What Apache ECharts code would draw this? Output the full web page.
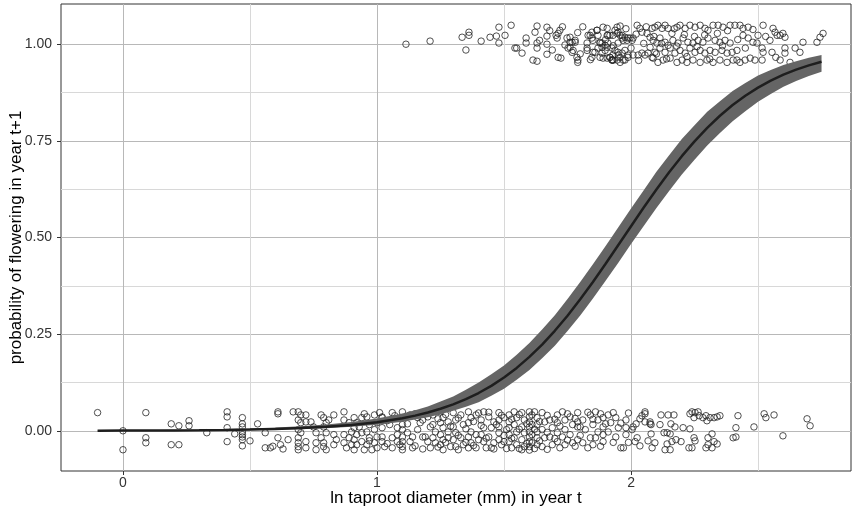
<!DOCTYPE html>
<html>
<head>
<meta charset="utf-8">
<script src="https://cdn.jsdelivr.net/npm/echarts@6/dist/echarts.min.js"></script>
<style>
html, body { margin: 0; padding: 0; background: #fff; }
#chart { width: 856px; height: 511px; }
</style>
</head>
<body>
<div id="chart"></div>
<script>
// fitted curve + confidence band
var curveX = [-0.1, 0.0, 0.1, 0.2, 0.3, 0.4, 0.5, 0.6, 0.7, 0.8, 0.9, 1.0, 1.1, 1.15, 1.2, 1.25, 1.3, 1.35,
  1.4, 1.45, 1.5, 1.55, 1.6, 1.65, 1.7, 1.75, 1.8, 1.85, 1.9, 1.95, 2.0, 2.05, 2.1, 2.15, 2.2, 2.25,
  2.3, 2.35, 2.4, 2.45, 2.5, 2.55, 2.6, 2.65, 2.7, 2.75];
var curveP = [0.0003, 0.0005, 0.0007, 0.0010, 0.0015, 0.0022, 0.0032, 0.0048, 0.0070, 0.0103, 0.0152,
  0.0222, 0.0325, 0.0392, 0.0473, 0.0569, 0.0683, 0.0818, 0.0977, 0.1163, 0.1379, 0.1627, 0.1911,
  0.2230, 0.2587, 0.2977, 0.3401, 0.3851, 0.4322, 0.4805, 0.5292, 0.5774, 0.6241, 0.6686, 0.7104,
  0.7488, 0.7837, 0.8149, 0.8426, 0.8667, 0.8876, 0.9057, 0.9211, 0.9341, 0.9452, 0.9545];
var ciLower = [0.0001, 0.0002, 0.0003, 0.0004, 0.0007, 0.0011, 0.0017, 0.0027, 0.0042, 0.0066, 0.0102,
  0.0155, 0.0235, 0.0290, 0.0350, 0.0430, 0.0520, 0.0625, 0.0740, 0.0905, 0.1090, 0.1320, 0.1570,
  0.1875, 0.2200, 0.2580, 0.2980, 0.3420, 0.3880, 0.4350, 0.4830, 0.5295, 0.5760, 0.6200, 0.6630,
  0.7010, 0.7380, 0.7700, 0.8010, 0.8265, 0.8510, 0.8710, 0.8900, 0.9045, 0.9180, 0.9290];
var ciUpper = [0.0010, 0.0013, 0.0017, 0.0024, 0.0032, 0.0044, 0.0060, 0.0085, 0.0115, 0.0160, 0.0225,
  0.0315, 0.0445, 0.0530, 0.0630, 0.0755, 0.0890, 0.1060, 0.1250, 0.1460, 0.1690, 0.1970, 0.2270,
  0.2620, 0.2990, 0.3410, 0.3850, 0.4310, 0.4780, 0.5265, 0.5750, 0.6225, 0.6700, 0.7130, 0.7550,
  0.7905, 0.8250, 0.8525, 0.8790, 0.8995, 0.9190, 0.9330, 0.9460, 0.9560, 0.9650, 0.9720];

// jittered observations, did not flower (y ~ 0)
var noFlowerA = [[-0.10,0.047],[0.00,0.000],[0.00,-0.049],[0.09,0.047],[0.09,-0.018],[0.09,-0.031],
  [0.19,0.018],[0.19,-0.036],[0.22,0.013],[0.22,-0.036],[0.26,0.026],[0.26,0.013],[0.33,-0.005],
  [0.41,0.049],[0.41,0.036],[0.41,0.008],[0.41,-0.028],[0.44,-0.008],[0.47,0.034],[0.47,0.018],
  [0.47,0.010],[0.47,-0.003],[0.47,-0.010],[0.47,-0.016],[0.47,-0.023],[0.47,-0.039],[0.50,-0.026],
  [0.53,0.018],[0.56,-0.044],[0.56,-0.005]];
var noFlowerB = [[0.58,-0.044],[0.59,-0.040],[0.61,0.049],[0.61,0.044],[0.61,-0.018],[0.62,-0.036],
  [0.63,-0.047],[0.65,-0.023],[0.67,0.049],[0.69,0.049],[0.70,0.041],[0.69,0.028],[0.70,0.021],
  [0.69,0.003],[0.69,-0.018],[0.69,-0.031],[0.69,-0.041],[0.69,-0.049],[0.72,0.023],[0.72,0.041],
  [0.70,-0.005],[0.72,-0.028],[0.72,-0.044],[0.74,0.023],[0.75,0.010],[0.76,-0.005],[0.76,-0.031],
  [0.76,-0.049],[0.78,0.041],[0.79,0.034],[0.80,0.021],[0.79,0.010],[0.80,-0.005],[0.78,-0.018],
  [0.79,-0.031],[0.79,-0.041],[0.80,-0.049],[0.81,0.028],[0.83,0.041],[0.83,-0.010],[0.84,-0.023],
  [0.83,-0.036],[0.87,0.049],[0.87,0.028],[0.87,-0.010],[0.87,-0.031],[0.88,-0.044],[0.89,0.021],
  [0.90,-0.003],[0.89,-0.018],[0.90,-0.036],[0.91,0.034],[0.92,0.021],[0.91,0.008],[0.92,-0.010],
  [0.91,-0.023],[0.92,-0.036],[0.91,-0.049],[0.94,0.034],[0.93,0.010],[0.94,-0.005],[0.94,-0.028],
  [0.95,-0.049],[0.96,0.036],[0.97,0.016],[0.96,-0.003],[0.97,-0.018],[0.96,-0.036],[0.98,-0.049],
  [0.99,0.041],[1.00,0.021],[0.99,0.003],[1.00,-0.016],[0.99,-0.031],[1.00,-0.044],[1.02,0.036],
  [1.02,0.008],[1.02,-0.028]];
var noFlowerC = [[1.02,0.034],[1.02,-0.016],[1.03,-0.041],[1.06,0.047],[1.05,0.016],[1.06,-0.018],
  [1.06,-0.044],[1.08,0.008],[1.08,-0.010],[1.08,-0.028],[1.10,0.049],[1.10,0.034],[1.10,0.016],
  [1.10,0.003],[1.10,-0.016],[1.10,-0.028],[1.10,-0.041],[1.10,-0.049],[1.13,0.041],[1.14,-0.016],
  [1.13,-0.028],[1.14,-0.044],[1.16,0.034],[1.17,0.021],[1.16,0.003],[1.18,-0.016],[1.19,0.049],
  [1.20,0.036],[1.19,-0.016],[1.20,-0.028],[1.21,-0.044],[1.22,0.041],[1.22,0.016],[1.23,-0.003],
  [1.22,-0.018],[1.23,-0.031],[1.25,0.049],[1.26,0.034],[1.25,0.021],[1.26,0.008],[1.25,-0.010],
  [1.26,-0.023],[1.25,-0.036],[1.26,-0.049],[1.28,0.023],[1.28,-0.003],[1.28,-0.018],[1.29,-0.041],
  [1.30,0.047],[1.31,0.028],[1.30,0.010],[1.31,-0.005],[1.30,-0.023],[1.31,-0.041],[1.32,-0.049],
  [1.33,0.041],[1.34,0.016],[1.33,-0.018],[1.34,-0.036],[1.36,0.049],[1.37,0.034],[1.36,0.021],
  [1.37,-0.003],[1.36,-0.016],[1.37,-0.031],[1.36,-0.044],[1.39,0.041],[1.39,-0.010],[1.40,-0.023],
  [1.39,-0.044],[1.42,0.049],[1.41,0.028],[1.42,0.008],[1.41,-0.010],[1.42,-0.028],[1.43,-0.044],
  [1.44,0.036],[1.46,0.023],[1.45,0.008],[1.44,-0.016],[1.46,-0.031],[1.45,-0.044],[1.48,0.047],
  [1.48,0.028],[1.48,0.010],[1.48,-0.005],[1.48,-0.023],[1.49,-0.036],[1.50,0.034],[1.51,0.003],
  [1.50,-0.028]];
var noFlowerD = [[1.52,0.041],[1.52,0.023],[1.52,0.008],[1.52,-0.010],[1.52,-0.028],[1.53,-0.044],
  [1.54,0.049],[1.55,0.034],[1.54,0.016],[1.55,-0.003],[1.54,-0.018],[1.55,-0.036],[1.57,0.047],
  [1.58,0.028],[1.57,0.010],[1.58,-0.005],[1.57,-0.023],[1.58,-0.041],[1.57,-0.049],[1.60,0.049],
  [1.60,0.036],[1.60,0.023],[1.60,0.010],[1.60,-0.003],[1.60,-0.016],[1.60,-0.028],[1.60,-0.041],
  [1.60,-0.050],[1.61,0.041],[1.61,0.016],[1.61,-0.010],[1.61,-0.031],[1.63,0.034],[1.63,0.016],
  [1.63,-0.003],[1.63,-0.018],[1.63,-0.036],[1.65,0.047],[1.66,0.023],[1.65,0.003],[1.66,-0.018],
  [1.65,-0.041],[1.68,0.028],[1.69,0.008],[1.68,-0.016],[1.69,-0.036],[1.71,0.041],[1.71,0.021],
  [1.71,-0.005],[1.71,-0.028],[1.73,0.049],[1.74,0.028],[1.74,0.003],[1.73,-0.016],[1.74,-0.036],
  [1.76,0.036],[1.77,0.016],[1.76,-0.010],[1.77,-0.031],[1.79,0.047],[1.79,0.023],[1.79,0.010],
  [1.79,-0.023],[1.81,0.028],[1.82,0.003],[1.81,-0.031],[1.84,0.041],[1.85,0.016],[1.84,-0.018],
  [1.85,-0.036],[1.86,0.049],[1.87,0.028],[1.87,-0.003],[1.86,-0.018],[1.89,0.034],[1.89,0.010],
  [1.89,-0.010],[1.89,-0.028],[1.91,0.041],[1.92,0.021],[1.91,-0.003],[1.94,0.034],[1.95,0.008],
  [1.94,-0.016],[1.96,-0.044],[1.97,-0.044],[1.98,0.028],[1.98,0.008],[1.98,-0.010]];
var noFlowerE = [[2.004,0.003],[2.008,0.010],[2.02,0.018],[2.035,0.031],[2.043,0.039],[2.055,0.049],
  [2.055,0.044],[2.055,0.023],[2.075,0.023],[2.075,0.018],[2.079,0.016],[2.067,-0.026],[2.024,-0.018],
  [2.016,-0.028],[2.035,-0.039],[2.083,-0.044],[2.094,-0.031],[2.079,-0.008],[2.114,0.016],[2.118,0.041],
  [2.142,-0.005],[2.142,-0.034],[2.13,-0.005],[2.134,-0.049],[2.154,-0.049],[2.146,0.041],[2.169,0.041],
  [2.157,0.018],[2.173,0.010],[2.154,-0.008],[2.161,-0.028],[2.177,-0.023],[2.197,-0.028],[2.205,0.008],
  [2.232,0.005],[2.228,-0.044],[2.24,-0.044],[2.232,0.044],[2.24,0.049],[2.252,0.047],[2.264,0.049],
  [2.248,0.034],[2.268,0.039],[2.283,0.034],[2.295,0.039],[2.299,0.026],[2.311,0.034],[2.327,0.034],
  [2.339,0.036],[2.35,0.039],[2.248,-0.018],[2.252,-0.026],[2.303,-0.018],[2.303,-0.036],[2.319,-0.044],
  [2.295,-0.044],[2.327,-0.028],[2.319,-0.008],[2.339,-0.034],[2.421,0.039],[2.413,0.008],[2.413,-0.016],
  [2.402,-0.018],[2.484,0.010],[2.524,0.044],[2.531,0.034],[2.563,0.041],[2.598,-0.013],[2.693,0.031],
  [2.705,0.013]];
var noFlowerF = [[0.95,0.044],[0.97,-0.026],[1.01,0.047],[1.04,-0.033],[1.04,0.026],[1.07,0.039],
  [1.09,-0.036],[1.12,0.018],[1.12,-0.005],[1.15,0.044],[1.15,-0.039],[1.18,0.028],[1.18,-0.047],
  [1.21,0.010],[1.24,0.031],[1.24,-0.042],[1.27,0.042],[1.27,-0.030],[1.29,0.012],[1.32,0.033],
  [1.32,-0.012],[1.35,0.005],[1.35,-0.030],[1.38,0.024],[1.38,-0.038],[1.40,0.046],[1.41,0.014],
  [1.43,-0.019],[1.44,0.048],[1.46,-0.047],[1.47,0.016],[1.49,0.040],[1.50,-0.012],[1.51,-0.046],
  [1.53,0.030],[1.53,-0.020],[1.56,0.042],[1.56,0.004],[1.56,-0.046],[1.59,0.018],[1.59,-0.033],
  [1.62,0.049],[1.62,0.004],[1.62,-0.046],[1.64,0.024],[1.64,-0.026],[1.67,0.040],[1.67,-0.004],
  [1.67,-0.048],[1.70,0.030],[1.70,-0.020],[1.72,0.012],[1.72,-0.044],[1.75,0.044],[1.75,-0.024],
  [1.78,0.032],[1.78,-0.040],[1.80,0.010],[1.80,-0.012],[1.83,0.048],[1.83,-0.044],[1.85,0.030],
  [1.88,0.044],[1.88,-0.040],[1.90,0.018],[1.93,-0.030],[1.93,0.047],[1.96,0.020],[1.99,-0.030],
  [1.99,0.046]];

// jittered observations, flowered (y ~ 1)
var flowerA = [[1.114,1.000],[1.209,1.008],[1.335,1.018],[1.362,1.031],[1.362,1.023],[1.350,0.985],
  [1.410,1.008],[1.445,1.018],[1.470,1.021],[1.480,1.044],[1.480,1.003],[1.504,1.023],[1.528,1.049],
  [1.543,0.990],[1.550,0.990],[1.571,0.977],[1.587,1.016],[1.587,1.003],[1.614,0.959],[1.630,0.956],
  [1.630,1.047],[1.622,1.031],[1.630,1.003],[1.630,0.990],[1.669,1.044],[1.669,1.021],[1.669,1.000],
  [1.669,0.974],[1.705,1.023],[1.713,1.028],[1.720,1.036],[1.709,1.016],[1.713,0.966],[1.724,0.964],
  [1.760,1.018],[1.768,1.005],[1.780,1.005],[1.760,0.992],[1.768,0.979],[1.790,0.953],[1.827,1.003],
  [1.827,0.990],[1.839,1.023],[1.846,1.016],[1.850,0.979],[1.866,1.036],[1.870,1.023],[1.878,1.003],
  [1.878,0.966],[1.906,1.041],[1.909,1.023],[1.906,0.992],[1.917,0.966],[1.925,0.959],[1.945,1.044],
  [1.949,1.003],[1.929,0.959]];
var flowerB = [[1.748,1.016],[1.760,1.005],[1.780,1.010],[1.752,0.990],[1.772,0.984],[1.787,0.966],
  [1.791,0.959],[1.831,1.023],[1.846,1.031],[1.850,1.010],[1.866,1.036],[1.827,0.984],[1.858,0.979],
  [1.846,0.966],[1.878,1.005],[1.886,0.992],[1.898,0.984],[1.890,0.964],[1.917,0.966],[1.925,0.959],
  [1.929,0.972],[1.945,0.959],[1.957,0.966],[1.976,0.959],[1.988,0.966],[1.937,1.036],[1.949,1.031],
  [1.957,1.023],[1.965,1.016],[1.969,1.010],[1.984,1.010],[1.996,1.016],[2.008,1.016]];
var flowerC = [[1.890,1.044],[1.906,1.023],[1.917,1.023],[1.929,1.023],[1.945,1.028],[1.957,1.047],
  [1.965,1.023],[1.976,1.018],[1.988,1.016],[2.004,1.010],[1.886,1.003],[1.898,0.997],[1.909,1.003],
  [1.925,0.990],[1.937,0.984],[1.949,0.979],[1.965,0.977],[1.976,0.984],[1.988,0.972],[2.008,0.972],
  [2.028,0.972],[2.043,0.977],[2.055,0.972],[2.067,0.977],[2.083,0.966],[1.886,0.977],[1.906,0.964],
  [1.929,0.959],[1.957,0.953],[1.969,0.959],[2.024,1.049],[2.035,1.041],[2.043,1.031],[2.063,1.028],
  [2.083,1.041],[2.094,1.044],[2.106,1.049],[2.122,1.041],[2.134,1.049],[2.146,1.041],[2.161,1.028],
  [2.181,1.044],[2.193,1.049],[2.213,1.041],[2.232,1.049],[2.252,1.044],[2.272,1.049],[2.291,1.041],
  [2.303,1.036],[2.323,1.049],[2.075,1.018],[2.087,1.010],[2.102,1.003],[2.114,1.016],[2.134,1.005],
  [2.146,0.997],[2.165,1.010],[2.185,1.003],[2.205,1.016],[2.224,1.005],[2.244,1.003],[2.264,1.010],
  [2.283,1.005],[2.303,1.016],[2.331,1.010],[2.350,1.005],[2.370,1.010],[2.390,1.003]];
var flowerD = [[2.075,0.992],[2.094,0.979],[2.114,0.990],[2.134,0.979],[2.154,0.990],[2.173,0.977],
  [2.193,0.984],[2.213,0.977],[2.232,0.990],[2.252,0.979],[2.272,0.984],[2.291,0.977],[2.311,0.984],
  [2.331,0.979],[2.358,0.984],[2.378,0.977],[2.398,0.979],[2.417,0.984],[2.087,0.964],[2.106,0.953],
  [2.126,0.959],[2.154,0.964],[2.181,0.953],[2.201,0.959],[2.220,0.953],[2.244,0.959],[2.272,0.953],
  [2.299,0.959],[2.323,0.953],[2.350,0.959],[2.378,0.953],[2.402,0.959],[2.343,1.049],[2.362,1.044],
  [2.390,1.049],[2.409,1.049],[2.429,1.049],[2.441,1.041],[2.461,1.044],[2.417,0.959],[2.429,0.953],
  [2.449,0.959],[2.469,0.964],[2.488,0.959],[2.516,0.959],[2.441,1.023],[2.461,1.016],[2.480,1.005],
  [2.496,1.003],[2.520,1.049],[2.500,1.023],[2.516,0.990],[2.520,0.979],[2.547,1.010],[2.559,1.041],
  [2.567,1.031],[2.575,1.023],[2.587,1.023],[2.598,1.028],[2.606,1.018],[2.555,0.979],[2.587,0.959],
  [2.606,0.990],[2.606,0.977],[2.626,0.953],[2.646,0.990],[2.665,0.979],[2.677,1.005],[2.732,1.005],
  [2.744,1.018],[2.756,1.028]];
var flowerE = [[1.64,1.010],[1.68,1.035],[1.69,0.985],[1.73,1.045],[1.74,0.998],[1.79,1.030],
  [1.80,0.975],[1.81,1.045],[1.84,0.960],[1.87,0.990],[1.90,1.012],[1.93,0.996],[1.95,0.972],
  [1.98,1.040],[2.00,0.990],[2.02,1.026],[2.03,0.958],[2.05,1.002],[2.06,1.045],[2.09,1.020],
  [2.10,0.975],[2.12,1.002],[2.14,0.962],[2.17,1.040],[2.18,0.995],[2.21,1.025],[2.22,0.968],
  [2.25,1.020],[2.26,0.994],[2.29,1.024],[2.31,0.962],[2.34,1.028],[2.36,0.996],[2.38,1.035],
  [2.42,1.012],[2.45,0.990],[2.48,1.038],[2.53,1.020],[2.57,0.966]];

var xTicks = [0, 1, 2];
var xMinor = [0.5, 1.5, 2.5];
var yTicks = [0, 0.25, 0.5, 0.75, 1];
var yMinor = [0.125, 0.375, 0.625, 0.875];

var font = "'Liberation Sans', Arial, sans-serif";
var xMin = -0.244, xMax = 2.866;
var yMin = -0.104, yMax = 1.104;

var points = noFlowerA.concat(noFlowerB, noFlowerC, noFlowerD, noFlowerE, noFlowerF,
  flowerA, flowerB, flowerC, flowerD, flowerE);
var curve = curveX.map(function (x, i) { return [x, curveP[i]]; });

var chart = echarts.init(document.getElementById('chart'));

var option = {
  animation: false,
  backgroundColor: '#fff',
  grid: {
    left: 61, right: 5, top: 4, bottom: 40,
    show: true, borderColor: '#333', borderWidth: 1,
    containLabel: false, outerBoundsMode: 'none'
  },
  xAxis: [
    {
      type: 'value', min: xMin, max: xMax, position: 'bottom',
      name: 'ln taproot diameter (mm) in year t',
      nameLocation: 'middle', nameGap: 19, nameMoveOverlap: false,
      nameTextStyle: { fontFamily: font, fontSize: 17, color: '#000' },
      axisLine: { show: false, onZero: false },
      axisTick: { show: true, length: 4, lineStyle: { color: '#333' }, customValues: xTicks },
      axisLabel: { customValues: xTicks, margin: 5, fontFamily: font, fontSize: 14, color: '#333' },
      splitLine: { show: true, lineStyle: { color: '#b8b8b8', width: 1 } }
    },
    {
      type: 'value', min: xMin, max: xMax, position: 'top',
      axisLine: { show: false, onZero: false },
      axisTick: { show: false, customValues: xMinor },
      axisLabel: { show: false, customValues: xMinor },
      splitLine: { show: true, lineStyle: { color: '#d8d8d8', width: 1 } }
    }
  ],
  yAxis: [
    {
      type: 'value', min: yMin, max: yMax, position: 'left',
      name: 'probability of flowering in year t+1',
      nameLocation: 'middle', nameGap: 36, nameMoveOverlap: false,
      nameTextStyle: { fontFamily: font, fontSize: 17, color: '#000' },
      axisLine: { show: false, onZero: false },
      axisTick: { show: true, length: 4, lineStyle: { color: '#333' }, customValues: yTicks },
      axisLabel: {
        customValues: yTicks, margin: 9, fontFamily: font, fontSize: 14, color: '#333',
        formatter: function (v) { return v.toFixed(2); }
      },
      splitLine: { show: true, lineStyle: { color: '#b8b8b8', width: 1 } }
    },
    {
      type: 'value', min: yMin, max: yMax, position: 'right',
      axisLine: { show: false, onZero: false },
      axisTick: { show: false, customValues: yMinor },
      axisLabel: { show: false, customValues: yMinor },
      splitLine: { show: true, lineStyle: { color: '#d8d8d8', width: 1 } }
    }
  ],
  series: [
    {
      type: 'scatter',
      data: points,
      symbol: 'circle',
      symbolSize: 6.5,
      itemStyle: { color: 'rgba(255,255,255,0)', borderColor: '#262626', borderWidth: 1 },
      silent: true,
      z: 2
    },
    {
      // confidence ribbon
      type: 'custom',
      data: curve,
      silent: true,
      z: 3,
      renderItem: function (params, api) {
        if (params.dataIndex !== 0) return;
        var pts = [];
        for (var i = 0; i < curveX.length; i++) pts.push(api.coord([curveX[i], ciUpper[i]]));
        for (var j = curveX.length - 1; j >= 0; j--) pts.push(api.coord([curveX[j], ciLower[j]]));
        return { type: 'polygon', shape: { points: pts }, style: { fill: '#656565' } };
      }
    },
    {
      type: 'line',
      data: curve,
      showSymbol: false,
      symbol: 'none',
      lineStyle: { color: '#1e1e1e', width: 2.5 },
      silent: true,
      z: 4
    }
  ]
};

chart.setOption(option);
</script>
</body>
</html>
